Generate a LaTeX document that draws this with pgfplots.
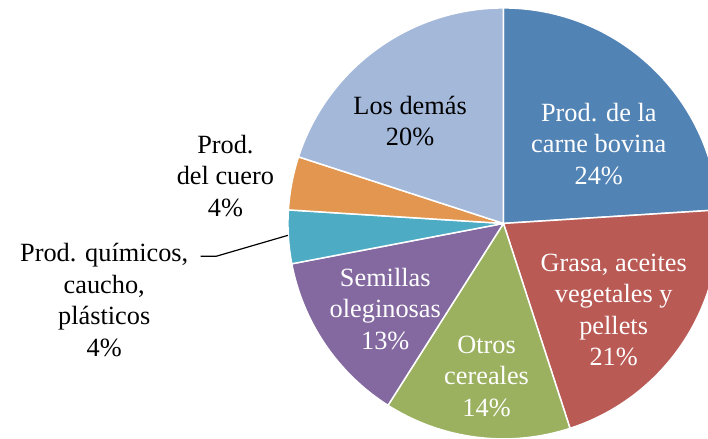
\documentclass[border=0pt]{standalone}
\usepackage{fontspec}
\setmainfont{Liberation Serif}
\usepackage{pgfplots}
\usepackage{pgfplotstable}
\pgfplotsset{compat=1.18}

\definecolor{pie0}{HTML}{5283B5}
\definecolor{pie1}{HTML}{BA5A55}
\definecolor{pie2}{HTML}{9BB15F}
\definecolor{pie3}{HTML}{8369A0}
\definecolor{pie4}{HTML}{4EABC4}
\definecolor{pie5}{HTML}{E2964F}
\definecolor{pie6}{HTML}{A4B8DA}

% shares in percent, clockwise from 12 o'clock
\pgfplotstableread{
share
24
21
14
13
4
4
20
}\piedata

\begin{document}
% start/end angle of each slice
\def\cum{90}
\pgfplotsforeachungrouped \i in {0,...,6}{%
  \pgfplotstablegetelem{\i}{share}\of\piedata
  \pgfmathsetmacro\ea{\cum-3.6*\pgfplotsretval}%
  \expandafter\xdef\csname sa\i\endcsname{\cum}%
  \expandafter\xdef\csname ea\i\endcsname{\ea}%
  \xdef\cum{\ea}%
}
\begin{tikzpicture}[lbl/.style={align=center, font=\fontsize{26.5bp}{31.7bp}\selectfont}]
\begin{axis}[
  name=ax,
  hide axis,
  scale only axis,
  x=1bp, y=1bp,
  xmin=0, xmax=708,
  ymin=0, ymax=442,
  clip=true,
]
\pgfplotsinvokeforeach{0,...,6}{%
  \filldraw[fill=pie#1, draw=white, line width=1.5bp, line join=round]
    (axis cs:502,217) -- ++(\csname sa#1\endcsname:217bp)
    arc[start angle=\csname sa#1\endcsname, end angle=\csname ea#1\endcsname, radius=217bp] -- cycle;
}
\node[lbl, text=white] at (axis cs:598,297) {Prod. de la\\carne bovina\\24\%};
\node[lbl, text=white] at (axis cs:613,130) {Grasa, aceites\\vegetales y\\pellets\\21\%};
\node[lbl, text=white] at (axis cs:485,63) {Otros\\cereales\\14\%};
\node[lbl, text=white] at (axis cs:383,131) {Semillas\\oleginosas\\13\%};
\node[lbl] at (axis cs:408,320) {Los demás\\20\%};
\node[lbl] at (axis cs:222,265) {Prod.\\del cuero\\4\%};
\node[lbl] at (axis cs:100,140) {Prod. químicos,\\caucho,\\plásticos\\4\%};
\draw[line width=1.2bp] (axis cs:197,184) -- (axis cs:213,184) -- (axis cs:285,205);
\end{axis}
\pgfresetboundingbox
\useasboundingbox (ax.south west) rectangle (ax.north east);
\end{tikzpicture}
\end{document}
